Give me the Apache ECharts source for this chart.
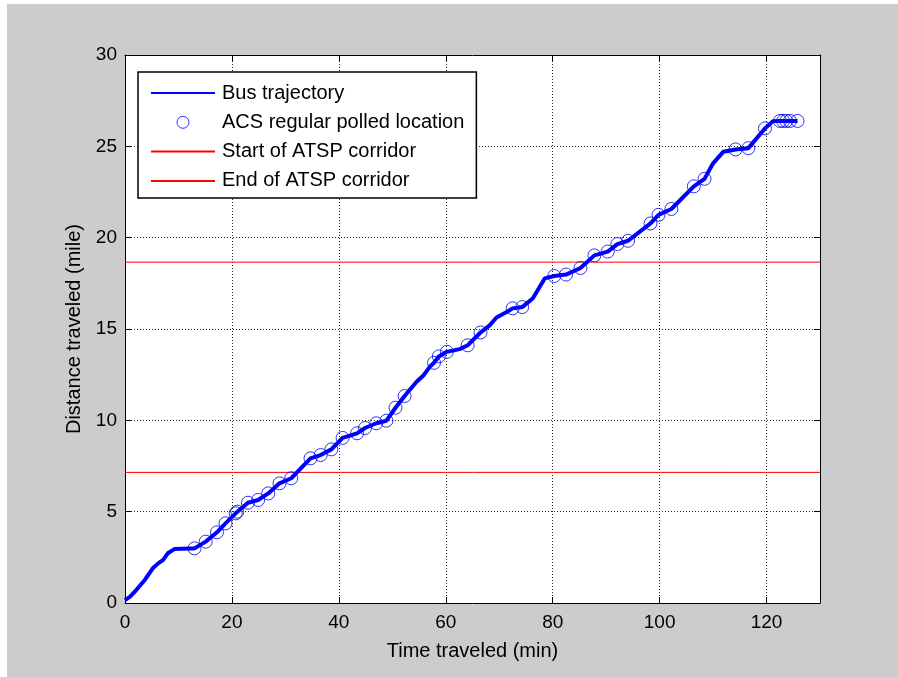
<!DOCTYPE html>
<html>
<head>
<meta charset="utf-8">
<script src="https://cdn.jsdelivr.net/npm/echarts@6/dist/echarts.min.js"></script>
<style>
html,body{margin:0;padding:0;background:#ffffff;}
#bg{position:absolute;left:7px;top:4px;width:891px;height:673px;background:#cccccc;}
#chart{position:absolute;left:0;top:0;width:898px;height:677px;}
</style>
</head>
<body>
<div id="bg"></div>
<div id="chart"></div>
<script>
// ---- data ----
const trajTime = [0, 0.9, 2.1, 3.7, 5.2, 6.2, 7.1, 8.0, 9.3, 12.1, 13.0, 15.1, 17.2, 18.8, 20.7, 21.0, 23.0, 24.9, 26.8, 28.9, 31.1, 34.7, 36.6, 38.6, 40.7, 43.4, 44.9, 47.0, 48.9, 50.6, 52.3, 54.5, 55.8, 57.0, 57.8, 58.7, 60.2, 62.6, 64.1, 66.5, 68.2, 69.5, 71.4, 72.5, 74.3, 76.3, 78.5, 80.3, 82.5, 85.2, 87.8, 90.3, 92.1, 94.1, 98.3, 99.8, 102.2, 106.4, 108.4, 110.0, 111.9, 114.2, 116.6, 119.7, 121.2, 122.5, 125.8];
const trajDist = [0.16, 0.34, 0.71, 1.26, 1.90, 2.17, 2.35, 2.72, 2.96, 2.99, 2.99, 3.36, 3.87, 4.36, 4.91, 5.00, 5.49, 5.64, 6.00, 6.55, 6.83, 7.92, 8.10, 8.41, 9.04, 9.29, 9.58, 9.84, 9.98, 10.69, 11.33, 12.10, 12.45, 12.93, 13.15, 13.50, 13.75, 13.90, 14.11, 14.81, 15.20, 15.63, 15.93, 16.13, 16.20, 16.68, 17.77, 17.90, 17.98, 18.34, 19.03, 19.24, 19.65, 19.83, 20.78, 21.25, 21.57, 22.81, 23.22, 24.07, 24.70, 24.83, 24.90, 25.98, 26.38, 26.39, 26.39];
const pollTime = [13.0, 15.1, 17.2, 18.8, 20.7, 21.0, 23.0, 24.9, 26.8, 28.9, 31.1, 34.7, 36.6, 38.6, 40.7, 43.4, 44.9, 47.0, 48.9, 50.6, 52.3, 57.8, 58.7, 60.2, 64.1, 66.5, 72.5, 74.3, 80.3, 82.5, 85.2, 87.8, 90.3, 92.1, 94.1, 98.3, 99.8, 102.2, 106.4, 108.4, 114.2, 116.6, 119.7, 122.5, 123.1, 123.7, 124.4, 125.8];
const pollDist = [2.99, 3.36, 3.87, 4.36, 4.91, 5.00, 5.49, 5.64, 6.00, 6.55, 6.83, 7.92, 8.10, 8.41, 9.04, 9.29, 9.58, 9.84, 9.98, 10.69, 11.33, 13.15, 13.50, 13.75, 14.11, 14.81, 16.13, 16.20, 17.90, 17.98, 18.34, 19.03, 19.24, 19.65, 19.83, 20.78, 21.25, 21.57, 22.81, 23.22, 24.83, 24.90, 25.98, 26.39, 26.39, 26.39, 26.39, 26.39];
const corridorStart = 7.15;
const corridorEnd = 18.66;
const xRange = [0, 130];
const yRange = [0, 30];
const seriesNames = ['Bus trajectory', 'ACS regular polled location', 'Start of ATSP corridor', 'End of ATSP corridor'];
const xTitle = 'Time traveled (min)';
const yTitle = 'Distance traveled (mile)';

const zip = (a, b) => a.map((v, i) => [v, b[i]]);
const FONT = '"Liberation Sans", Arial, Helvetica, sans-serif';

const chart = echarts.init(document.getElementById('chart'), null, {renderer: 'canvas'});
const axisCommon = {
  axisLine: {show: true, onZero: false, lineStyle: {color: '#000', width: 1}},
  axisTick: {show: true, inside: true, length: 6, lineStyle: {color: '#000', width: 1}}
};
const hiddenSym = {color: 'rgba(0,0,0,0)', borderWidth: 0, opacity: 0};
chart.setOption({
  animation: false,
  backgroundColor: 'transparent',
  textStyle: {fontFamily: FONT, color: '#000'},
  grid: {left: 125, top: 55, width: 695, height: 548, show: true, backgroundColor: '#fff', borderWidth: 0},
  legend: {
    orient: 'vertical',
    left: 138, top: 72,
    padding: [11, 12, 7, 12],
    itemWidth: 64, itemHeight: 12, itemGap: 9.3,
    backgroundColor: '#fff',
    borderColor: '#000', borderWidth: 1.5,
    selectedMode: false,
    textStyle: {fontFamily: FONT, fontSize: 20, color: '#000', lineHeight: 20, padding: [0, 0, 0, 2]},
    data: [
      {name: seriesNames[0], itemStyle: hiddenSym},
      {name: seriesNames[1], icon: 'circle', itemStyle: {color: 'rgba(0,0,0,0)', borderColor: '#0000ff', borderWidth: 1}},
      {name: seriesNames[2], itemStyle: hiddenSym},
      {name: seriesNames[3], itemStyle: hiddenSym}
    ]
  },
  xAxis: [
    Object.assign({
      type: 'value', min: xRange[0], max: xRange[1], interval: 20, position: 'bottom',
      name: xTitle, nameLocation: 'middle', nameGap: 38,
      nameTextStyle: {fontFamily: FONT, fontSize: 20, color: '#000'},
      axisLabel: {fontFamily: FONT, fontSize: 19, color: '#000', margin: 10, showMaxLabel: false},
      splitLine: {show: true, lineStyle: {color: '#222', type: [1, 2], width: 1}}
    }, axisCommon),
    Object.assign({
      type: 'value', min: xRange[0], max: xRange[1], interval: 20, position: 'top',
      axisLabel: {show: false}, splitLine: {show: false}
    }, axisCommon)
  ],
  yAxis: [
    Object.assign({
      type: 'value', min: yRange[0], max: yRange[1], interval: 5, position: 'left',
      name: yTitle, nameLocation: 'middle', nameGap: 40, nameRotate: 90,
      nameTextStyle: {fontFamily: FONT, fontSize: 20, color: '#000'},
      axisLabel: {fontFamily: FONT, fontSize: 19, color: '#000', margin: 8},
      splitLine: {show: true, lineStyle: {color: '#222', type: [1, 2], width: 1}}
    }, axisCommon),
    Object.assign({
      type: 'value', min: yRange[0], max: yRange[1], interval: 5, position: 'right',
      axisLabel: {show: false}, splitLine: {show: false}
    }, axisCommon)
  ],
  series: [
    {
      name: seriesNames[0], type: 'line', data: zip(trajTime, trajDist),
      symbol: 'none', showSymbol: false, z: 4,
      lineStyle: {color: '#0000ff', width: 4}, itemStyle: {color: '#0000ff'}
    },
    {
      name: seriesNames[1], type: 'scatter', data: zip(pollTime, pollDist),
      symbol: 'circle', symbolSize: 13, z: 5,
      itemStyle: {color: 'rgba(0,0,0,0)', borderColor: '#0000ff', borderWidth: 1}
    },
    {
      name: seriesNames[2], type: 'line', data: [[xRange[0], corridorStart], [xRange[1], corridorStart]],
      symbol: 'none', showSymbol: false, z: 3,
      lineStyle: {color: '#ff0000', width: 1}, itemStyle: {color: '#ff0000'}
    },
    {
      name: seriesNames[3], type: 'line', data: [[xRange[0], corridorEnd], [xRange[1], corridorEnd]],
      symbol: 'none', showSymbol: false, z: 3,
      lineStyle: {color: '#ff0000', width: 1}, itemStyle: {color: '#ff0000'}
    }
  ]
});
</script>
</body>
</html>
